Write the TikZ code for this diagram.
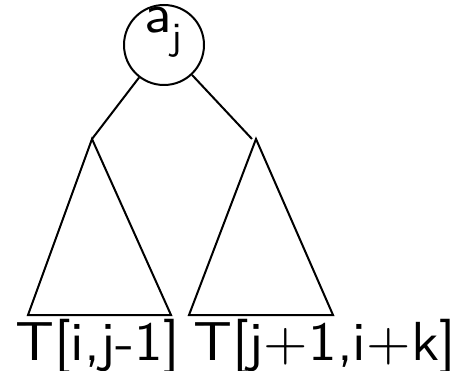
\documentclass[tikz,border=0pt]{standalone}
\usepackage{fontspec}
\usepackage{tikz}
\usetikzlibrary{positioning,calc}
\newfontfamily\treefont{lmsans10-regular.otf}[FakeStretch=1.04]
\tikzset{
  treeline/.style={line width=2pt, black},
  lbl/.style={font=\fontsize{55}{60}\selectfont\treefont, inner sep=0pt}
}

\begin{document}
\begin{tikzpicture}[x=1pt, y=-1pt]
\useasboundingbox (0,0) rectangle (452,371);
% Root
\node[circle, draw, line width=2pt, minimum size=80pt, inner sep=0pt] (aj) at (164,45) {};
\node[lbl, anchor=base west] (ajtext) at (144,33) {a\textsubscript{j}};
% Subtree tops
\coordinate (ltop) at (92,139);
\coordinate (rtop) at (256,139);
\coordinate (lbl1) at (28,315);
\coordinate (lbr1) at (171,315);
\coordinate (rbl1) at (189,315);
\coordinate (rbr1) at (333,315);
% Edges from root
\draw[treeline] (aj) -- (ltop);
\draw[treeline] (aj) -- ([xshift=-4pt]rtop);
% Subtrees
\draw[treeline, line join=miter] (ltop) -- (lbl1) -- (lbr1) -- cycle;
\draw[treeline, line join=miter] (rtop) -- (rbl1) -- (rbr1) -- cycle;
% Labels
\node[lbl, anchor=base west] (tleft) at (15,360) {T[i,j-1]};
\node[lbl, anchor=base west] (tright) at (193,360) {T[j+1,i+k]};
\end{tikzpicture}
\end{document}
